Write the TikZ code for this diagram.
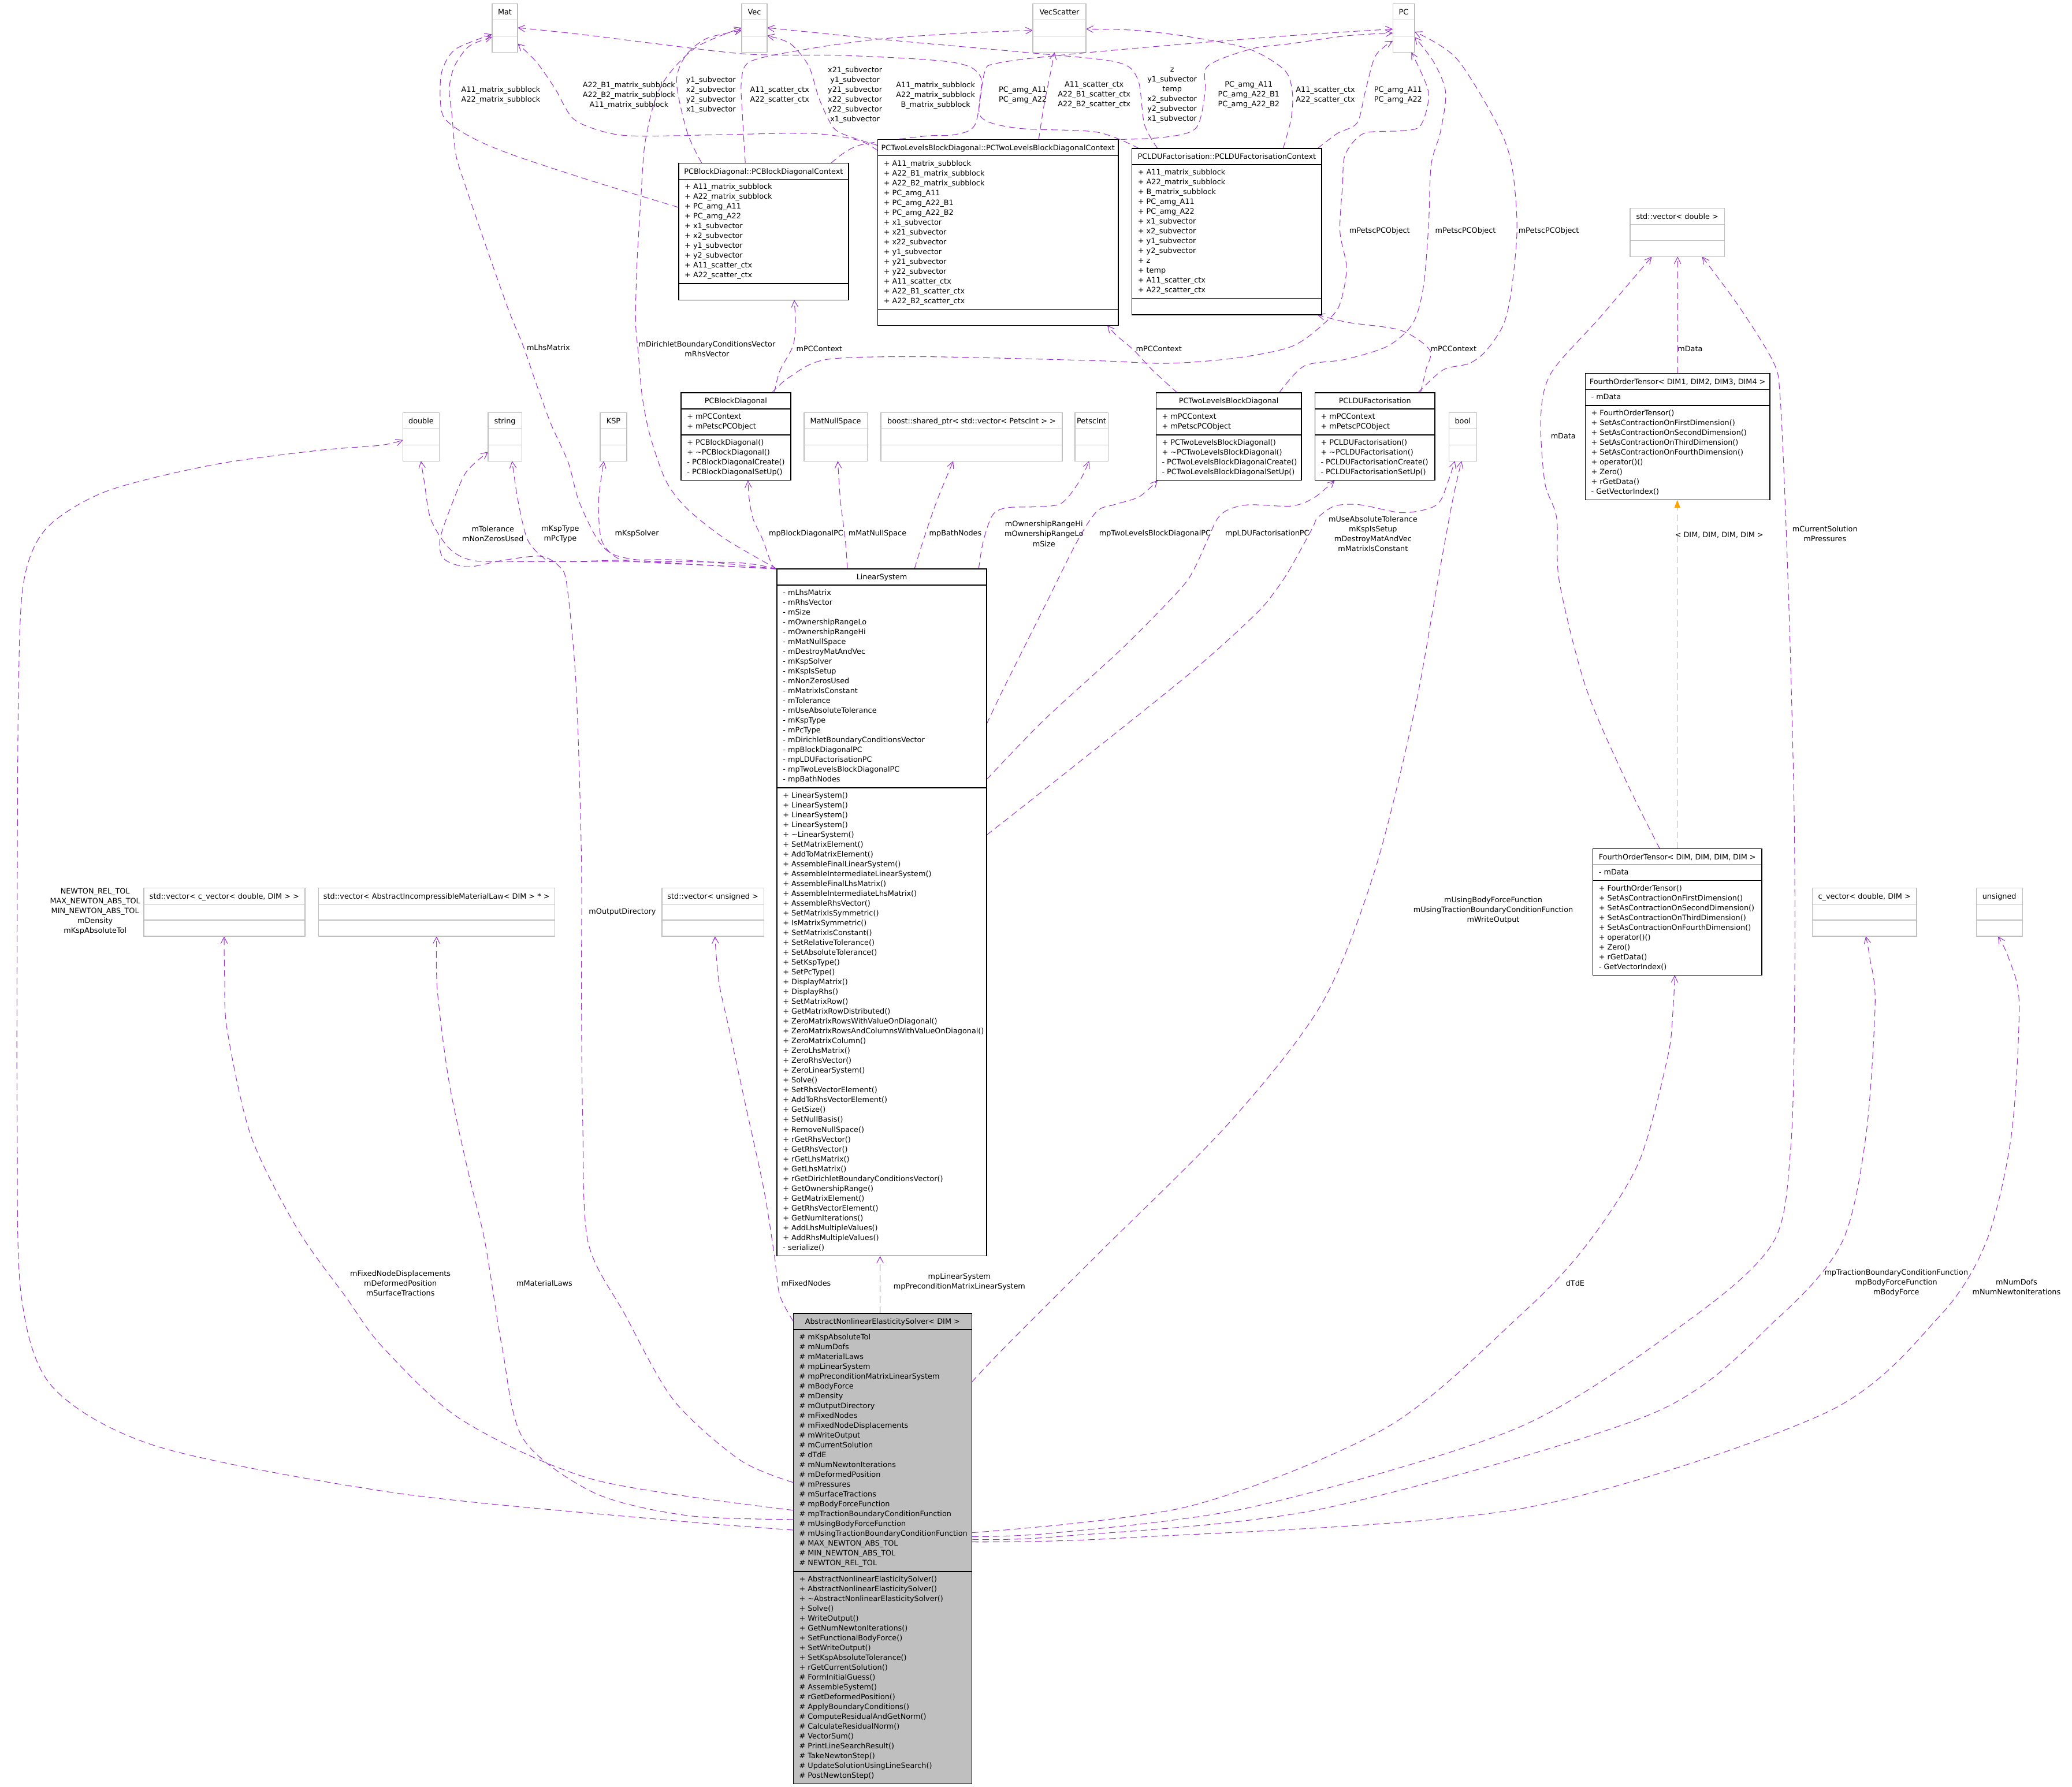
\documentclass[tikz,border=0pt]{standalone}
\usepackage{fontspec}
\newfontfamily\dxfam{DejaVu Sans}
\usetikzlibrary{arrows.meta}
\definecolor{edgepurple}{HTML}{9A32CD}
\definecolor{tmplorange}{HTML}{FFA500}
\definecolor{boxgray}{HTML}{BFBFBF}
\definecolor{anesgray}{HTML}{BFBFBF}
\pgfdeclarelayer{bg}
\pgfsetlayers{bg,main}
\newcommand\tbox[5]{%
  \node[gbox, minimum width={(#4-#2)*1pt}, minimum height=36.6pt] (#1) at (#2,#3) {};
  \draw[gsep] (#2,#3+12.2) -- (#4,#3+12.2) (#2,#3+24.4) -- (#4,#3+24.4);
  \node[ttl] (#1-t) at ({(#2+#4)/2},#3+8.2) {#5};}
\begin{document}
\catcode`\_=12
\begin{tikzpicture}[x=1pt,y=-1pt,
  every node/.style={outer sep=0pt},
  gbox/.style={draw=boxgray, fill=white, line width=0.55pt, inner sep=0pt, anchor=north west},
  cls/.style={draw=black, fill=white, line width=0.6pt, inner sep=0pt, anchor=north west},
  acls/.style={draw=black, fill=anesgray, line width=0.6pt, inner sep=0pt, anchor=north west},
  gsep/.style={draw=boxgray, line width=0.55pt},
  csep/.style={draw=black, line width=0.6pt},
  dxf/.style={font=\dxfam\fontsize{5.6}{7.44}\selectfont},
  ttl/.style={dxf, anchor=base, inner sep=0pt},
  lst/.style={dxf, anchor=north west, inner sep=0pt, align=left},
  lbl/.style={dxf, anchor=center, inner sep=0pt, align=center},
  dep/.style={draw=edgepurple, line width=0.45pt, dash pattern=on 5pt off 3pt, -{Straight Barb[length=5pt,width=5pt]}},
  tmpl/.style={draw=tmplorange, line width=0.45pt, dash pattern=on 5pt off 3pt, -{Triangle[length=6pt,width=4.5pt]}},
]
\useasboundingbox (0,0) rectangle (1568,1352.1);

% ---------- plain type boxes ----------
\tbox{Mat}{372.4}{3}{391.7}{Mat}
\tbox{Vec}{561.3}{3}{580.5}{Vec}
\tbox{VecScatter}{781.6}{3}{821.8}{VecScatter}
\tbox{PC}{1054}{3}{1070.5}{PC}
\tbox{dbl}{305}{312.3}{332.3}{double}
\tbox{str}{369.4}{312.3}{394.8}{string}
\tbox{KSP}{454.2}{312.3}{474.3}{KSP}
\tbox{MNS}{608.5}{312.3}{656.2}{MatNullSpace}
\tbox{boost}{666.6}{312.3}{803.9}{boost::shared_ptr< std::vector< PetscInt > >}
\tbox{PInt}{813.5}{312.3}{838.5}{PetscInt}
\tbox{bool}{1096.4}{312.3}{1117.4}{bool}
\tbox{vdbl}{1233.6}{157.6}{1305}{std::vector< double >}
\tbox{cvec}{1371.4}{672}{1450.4}{c_vector< double, DIM >}
\tbox{uns}{1495.5}{672}{1530.5}{unsigned}
\tbox{vcvec}{108.8}{672}{230.8}{std::vector< c_vector< double, DIM > >}
\tbox{vlaw}{241}{672}{419.7}{std::vector< AbstractIncompressibleMaterialLaw< DIM > * >}
\tbox{vuns}{501}{672}{578}{std::vector< unsigned >}

% ---------- context structs ----------
\node[cls, minimum width=128.5pt, minimum height=103.6pt] (PCBDC) at (513.6,123.4) {};
\node[ttl] (PCBDC-t) at (577.85,131.6) {PCBlockDiagonal::PCBlockDiagonalContext};
\draw[csep] (513.6,135.6) -- (642.1,135.6) (513.6,214.6) -- (642.1,214.6);
\node[lst] (PCBDC-a) at (518.1,138.0) {\strut+ A11_matrix_subblock\\+ A22_matrix_subblock\\+ PC_amg_A11\\+ PC_amg_A22\\+ x1_subvector\\+ x2_subvector\\+ y1_subvector\\+ y2_subvector\\+ A11_scatter_ctx\\+ A22_scatter_ctx};

\node[cls, minimum width=182.1pt, minimum height=140.6pt] (PCTLC) at (664.2,105.7) {};
\node[ttl] (PCTLC-t) at (755.25,113.9) {PCTwoLevelsBlockDiagonal::PCTwoLevelsBlockDiagonalContext};
\draw[csep] (664.2,117.9) -- (846.3,117.9) (664.2,234.1) -- (846.3,234.1);
\node[lst] (PCTLC-a) at (668.7,120.3) {\strut+ A11_matrix_subblock\\+ A22_B1_matrix_subblock\\+ A22_B2_matrix_subblock\\+ PC_amg_A11\\+ PC_amg_A22_B1\\+ PC_amg_A22_B2\\+ x1_subvector\\+ x21_subvector\\+ x22_subvector\\+ y1_subvector\\+ y21_subvector\\+ y22_subvector\\+ A11_scatter_ctx\\+ A22_B1_scatter_ctx\\+ A22_B2_scatter_ctx};

\node[cls, minimum width=143.6pt, minimum height=125.8pt] (PCLDUC) at (856.6,112.4) {};
\node[ttl] (PCLDUC-t) at (928.4,120.6) {PCLDUFactorisation::PCLDUFactorisationContext};
\draw[csep] (856.6,124.6) -- (1000.2,124.6) (856.6,225.9) -- (1000.2,225.9);
\node[lst] (PCLDUC-a) at (861.1,127.0) {\strut+ A11_matrix_subblock\\+ A22_matrix_subblock\\+ B_matrix_subblock\\+ PC_amg_A11\\+ PC_amg_A22\\+ x1_subvector\\+ x2_subvector\\+ y1_subvector\\+ y2_subvector\\+ z\\+ temp\\+ A11_scatter_ctx\\+ A22_scatter_ctx};

% ---------- preconditioner classes ----------
\node[cls, minimum width=83pt, minimum height=66.3pt] (PCBD) at (515.4,297.3) {};
\node[ttl] (PCBD-t) at (556.9,305.5) {PCBlockDiagonal};
\draw[csep] (515.4,309.5) -- (598.4,309.5) (515.4,329.2) -- (598.4,329.2);
\node[lst] (PCBD-a) at (519.9,311.9) {\strut+ mPCContext\\+ mPetscPCObject};
\node[lst] (PCBD-m) at (519.9,331.6) {\strut+ PCBlockDiagonal()\\+ \textasciitilde PCBlockDiagonal()\\- PCBlockDiagonalCreate()\\- PCBlockDiagonalSetUp()};

\node[cls, minimum width=110.1pt, minimum height=66.3pt] (PCTL) at (874.8,297.3) {};
\node[ttl] (PCTL-t) at (929.85,305.5) {PCTwoLevelsBlockDiagonal};
\draw[csep] (874.8,309.5) -- (984.9,309.5) (874.8,329.2) -- (984.9,329.2);
\node[lst] (PCTL-a) at (879.3,311.9) {\strut+ mPCContext\\+ mPetscPCObject};
\node[lst] (PCTL-m) at (879.3,331.6) {\strut+ PCTwoLevelsBlockDiagonal()\\+ \textasciitilde PCTwoLevelsBlockDiagonal()\\- PCTwoLevelsBlockDiagonalCreate()\\- PCTwoLevelsBlockDiagonalSetUp()};

\node[cls, minimum width=90.9pt, minimum height=66.3pt] (PCLDU) at (995,297.3) {};
\node[ttl] (PCLDU-t) at (1040.45,305.5) {PCLDUFactorisation};
\draw[csep] (995,309.5) -- (1085.9,309.5) (995,329.2) -- (1085.9,329.2);
\node[lst] (PCLDU-a) at (999.5,311.9) {\strut+ mPCContext\\+ mPetscPCObject};
\node[lst] (PCLDU-m) at (999.5,331.6) {\strut+ PCLDUFactorisation()\\+ \textasciitilde PCLDUFactorisation()\\- PCLDUFactorisationCreate()\\- PCLDUFactorisationSetUp()};

% ---------- tensors ----------
\node[cls, minimum width=139.8pt, minimum height=95.8pt] (FOT4) at (1199.6,282.6) {};
\node[ttl] (FOT4-t) at (1269.5,290.8) {FourthOrderTensor< DIM1, DIM2, DIM3, DIM4 >};
\draw[csep] (1199.6,294.8) -- (1339.4,294.8) (1199.6,306.8) -- (1339.4,306.8);
\node[lst] (FOT4-a) at (1204.1,297.2) {\strut- mData};
\node[lst] (FOT4-m) at (1204.1,309.2) {\strut+ FourthOrderTensor()\\+ SetAsContractionOnFirstDimension()\\+ SetAsContractionOnSecondDimension()\\+ SetAsContractionOnThirdDimension()\\+ SetAsContractionOnFourthDimension()\\+ operator()()\\+ Zero()\\+ rGetData()\\- GetVectorIndex()};

\node[cls, minimum width=127.8pt, minimum height=95.8pt] (FOT) at (1205.4,642.3) {};
\node[ttl] (FOT-t) at (1269.3,650.5) {FourthOrderTensor< DIM, DIM, DIM, DIM >};
\draw[csep] (1205.4,654.5) -- (1333.2,654.5) (1205.4,666.5) -- (1333.2,666.5);
\node[lst] (FOT-a) at (1209.9,656.9) {\strut- mData};
\node[lst] (FOT-m) at (1209.9,668.9) {\strut+ FourthOrderTensor()\\+ SetAsContractionOnFirstDimension()\\+ SetAsContractionOnSecondDimension()\\+ SetAsContractionOnThirdDimension()\\+ SetAsContractionOnFourthDimension()\\+ operator()()\\+ Zero()\\+ rGetData()\\- GetVectorIndex()};

% ---------- LinearSystem ----------
\node[cls, minimum width=158.6pt, minimum height=519.9pt] (LS) at (588,430.6) {};
\node[ttl] (LS-t) at (667.3,438.8) {LinearSystem};
\draw[csep] (588,442.8) -- (746.6,442.8) (588,596.2) -- (746.6,596.2);
\node[lst] (LS-a) at (592.5,445.2) {\strut- mLhsMatrix\\- mRhsVector\\- mSize\\- mOwnershipRangeLo\\- mOwnershipRangeHi\\- mMatNullSpace\\- mDestroyMatAndVec\\- mKspSolver\\- mKspIsSetup\\- mNonZerosUsed\\- mMatrixIsConstant\\- mTolerance\\- mUseAbsoluteTolerance\\- mKspType\\- mPcType\\- mDirichletBoundaryConditionsVector\\- mpBlockDiagonalPC\\- mpLDUFactorisationPC\\- mpTwoLevelsBlockDiagonalPC\\- mpBathNodes};
\node[lst] (LS-m) at (592.5,598.6) {\strut+ LinearSystem()\\+ LinearSystem()\\+ LinearSystem()\\+ LinearSystem()\\+ \textasciitilde LinearSystem()\\+ SetMatrixElement()\\+ AddToMatrixElement()\\+ AssembleFinalLinearSystem()\\+ AssembleIntermediateLinearSystem()\\+ AssembleFinalLhsMatrix()\\+ AssembleIntermediateLhsMatrix()\\+ AssembleRhsVector()\\+ SetMatrixIsSymmetric()\\+ IsMatrixSymmetric()\\+ SetMatrixIsConstant()\\+ SetRelativeTolerance()\\+ SetAbsoluteTolerance()\\+ SetKspType()\\+ SetPcType()\\+ DisplayMatrix()\\+ DisplayRhs()\\+ SetMatrixRow()\\+ GetMatrixRowDistributed()\\+ ZeroMatrixRowsWithValueOnDiagonal()\\+ ZeroMatrixRowsAndColumnsWithValueOnDiagonal()\\+ ZeroMatrixColumn()\\+ ZeroLhsMatrix()\\+ ZeroRhsVector()\\+ ZeroLinearSystem()\\+ Solve()\\+ SetRhsVectorElement()\\+ AddToRhsVectorElement()\\+ GetSize()\\+ SetNullBasis()\\+ RemoveNullSpace()\\+ rGetRhsVector()\\+ GetRhsVector()\\+ rGetLhsMatrix()\\+ GetLhsMatrix()\\+ rGetDirichletBoundaryConditionsVector()\\+ GetOwnershipRange()\\+ GetMatrixElement()\\+ GetRhsVectorElement()\\+ GetNumIterations()\\+ AddLhsMultipleValues()\\+ AddRhsMultipleValues()\\- serialize()};

% ---------- AbstractNonlinearElasticitySolver ----------
\node[acls, minimum width=135.1pt, minimum height=356.2pt] (ANES) at (600.3,994) {};
\node[ttl] (ANES-t) at (667.85,1002.2) {AbstractNonlinearElasticitySolver< DIM >};
\draw[csep] (600.3,1006.2) -- (735.4,1006.2) (600.3,1189.4) -- (735.4,1189.4);
\node[lst] (ANES-a) at (604.8,1008.6) {\strut\# mKspAbsoluteTol\\\# mNumDofs\\\# mMaterialLaws\\\# mpLinearSystem\\\# mpPreconditionMatrixLinearSystem\\\# mBodyForce\\\# mDensity\\\# mOutputDirectory\\\# mFixedNodes\\\# mFixedNodeDisplacements\\\# mWriteOutput\\\# mCurrentSolution\\\# dTdE\\\# mNumNewtonIterations\\\# mDeformedPosition\\\# mPressures\\\# mSurfaceTractions\\\# mpBodyForceFunction\\\# mpTractionBoundaryConditionFunction\\\# mUsingBodyForceFunction\\\# mUsingTractionBoundaryConditionFunction\\\# MAX_NEWTON_ABS_TOL\\\# MIN_NEWTON_ABS_TOL\\\# NEWTON_REL_TOL};
\node[lst] (ANES-m) at (604.8,1191.8) {\strut+ AbstractNonlinearElasticitySolver()\\+ AbstractNonlinearElasticitySolver()\\+ \textasciitilde AbstractNonlinearElasticitySolver()\\+ Solve()\\+ WriteOutput()\\+ GetNumNewtonIterations()\\+ SetFunctionalBodyForce()\\+ SetWriteOutput()\\+ SetKspAbsoluteTolerance()\\+ rGetCurrentSolution()\\\# FormInitialGuess()\\\# AssembleSystem()\\\# rGetDeformedPosition()\\\# ApplyBoundaryConditions()\\\# ComputeResidualAndGetNorm()\\\# CalculateResidualNorm()\\\# VectorSum()\\\# PrintLineSearchResult()\\\# TakeNewtonStep()\\\# UpdateSolutionUsingLineSearch()\\\# PostNewtonStep()};

% ---------- connectors ----------
\begin{pgfonlayer}{bg}
\fill[white] (0,0) rectangle (1568,1352.1);
% context structs -> Mat
\draw[dep] plot[smooth] coordinates {(PCBDC.west |- 0,157) (448,137) (393,119) (365,108) (345,97) (335,87) (333,69) (335,52) (345,37) (Mat.west |- 0,26)};
\draw[dep] plot[smooth] coordinates {(PCTLC.west |- 0,114) (649,106) (614,101) (543,102) (483,103) (458,100) (434,90) (420,67) (406,47) (Mat.east |- 0,33)};
\draw[dep] plot[smooth] coordinates {(PCLDUC.north -| 862,0) (830,100) (770,97) (742,88) (742,58) (720,47) (640,42) (566,41) (496,33) (448,27) (412,23) (Mat.east |- 0,21)};
% -> Vec
\draw[dep] plot[smooth] coordinates {(PCBDC.north -| 531,0) (520,100) (512,62) (519,42) (535,29) (Vec.west |- 0,23)};
\draw[dep] plot[smooth] coordinates {(PCTLC.west |- 0,110) (645,104) (631,97) (620,75) (612,50) (598,33) (Vec.east |- 0,27)};
\draw[dep] plot[smooth] coordinates {(PCLDUC.north -| 876,0) (866,94) (861,60) (845,47) (780,40) (680,31) (610,24) (Vec.east |- 0,21)};
% -> VecScatter
\draw[dep] plot[smooth] coordinates {(PCBDC.north -| 564,0) (562,90) (561,62) (567,47) (600,39) (661,30) (730,25) (VecScatter.west |- 0,23)};
\draw[dep] plot[smooth] coordinates {(PCTLC.north -| 786,0) (790,80) (795,55) (VecScatter.south -| 798,0)};
\draw[dep] plot[smooth] coordinates {(PCLDUC.north -| 971,0) (977,90) (978,70) (972,53) (945,37) (901,28) (860,23) (VecScatter.east |- 0,22)};
% -> PC
\draw[dep] plot[smooth] coordinates {(PCBDC.north -| 629,0) (650,110) (700,103) (722,102) (738,94) (745,55) (754,48) (800,42) (900,33) (990,26) (PC.west |- 0,22)};
\draw[dep] plot[smooth] coordinates {(PCTLC.north -| 840,0) (880,104) (905,97) (912,70) (914,50) (947,37) (977,33) (1020,27) (PC.west |- 0,25)};
\draw[dep] plot[smooth] coordinates {(PCLDUC.north -| 997,0) (1012,101) (1027,93) (1033,70) (1040,44) (1048,35) (PC.west |- 0,31)};
% mPetscPCObject
\draw[dep] plot[smooth] coordinates {(PCBD.north -| 584,0) (598,285) (626,272) (702,270) (830,273) (883,275) (935,271) (978,262) (1004,243) (1014,230) (1019,203) (1014,175) (1016,140) (1018,117) (1032,101) (1060,99) (1075,95) (1081,70) (PC.south -| 1068,0)};
\draw[dep] plot[smooth] coordinates {(PCTL.north -| 968,0) (987,277) (1018,272) (1050,262) (1069,245) (1077,218) (1081,172) (1083,125) (1090,100) (1094,70) (1085,47) (PC.east |- 0,28)};
\draw[dep] plot[smooth] coordinates {(PCLDU.north -| 1073,0) (1092,280) (1112,275) (1125,265) (1138,245) (1144,218) (1148,172) (1144,125) (1133,94) (1102,44) (PC.east |- 0,24)};
% mPCContext
\draw[dep] plot[smooth] coordinates {(PCBD.north -| 586,0) (590,281) (600,262) (602,245) (PCBDC.south -| 601,0)};
\draw[dep] plot[smooth] coordinates {(PCTL.north -| 891,0) (872,280) (858,265) (845,254) (PCTLC.south -| 838,0)};
\draw[dep] plot[smooth] coordinates {(PCLDU.north -| 1075,0) (1079,280) (1082,265) (1060,250) (1020,244) (PCLDUC.south -| 997,0)};
% LinearSystem ->
\draw[dep] plot[smooth] coordinates {(LS.north west) (540,428) (493,425) (465,420) (452,408) (438,379) (430,350) (417,321) (406,291) (396,262) (385,235) (368,187) (352,140) (345,117) (342,87) (340,67) (344,50) (355,35) (Mat.west |- 0,28)};
\draw[dep] plot[smooth] coordinates {(LS.north west) (549,408) (520,385) (504,364) (492,330) (486,300) (483,267) (481,243) (482,200) (485,150) (488,109) (496,75) (507,55) (528,35) (Vec.west |- 0,21)};
\draw[dep] plot[smooth] coordinates {(LS.north west) (560,426) (493,425) (389,425) (357,424) (340,415) (326,393) (321,364) (dbl.south -| 318.5,0)};
\draw[dep] plot[smooth] coordinates {(LS.north west) (520,424) (470,424) (420,425) (410,421) (399,408) (392,379) (str.south -| 387.5,0)};
\draw[dep] plot[smooth] coordinates {(LS.north west) (540,428) (480,425) (465,421) (455,408) (453,379) (KSP.south -| 457,0)};
\draw[dep] plot[smooth] coordinates {(LS.north west) (584,427) (577,408) (570,393) (567,378) (PCBD.south -| 566,0)};
\draw[dep] plot[smooth] coordinates {(LS.north -| 641.3,0) (639.6,408) (636,379) (MNS.south -| 634,0)};
\draw[dep] plot[smooth] coordinates {(LS.north -| 692,0) (699,408) (709,379) (boost.south -| 721.4,0)};
\draw[dep] plot[smooth] coordinates {(LS.north -| 740.6,0) (744,410) (751,390) (761.5,384.3) (782,383.6) (803,381) (817,364) (PInt.south -| 824.2,0)};
\draw[dep] plot[smooth] coordinates {(LS.east |- 0,548) (760,520) (790,460) (815,410) (830,387) (843,382) (862,376) (PCTL.south -| 876,0)};
\draw[dep] plot[smooth] coordinates {(LS.east |- 0,590) (790,545) (850,490) (893,446) (904,430) (914,408) (921,393) (929,386) (945,382) (977,383) (994,377) (PCLDU.south -| 1010,0)};
\draw[dep] plot[smooth] coordinates {(LS.east |- 0,632) (800,590) (900,510) (950,465) (966,446) (976.5,430) (993,400) (997,392) (1010,383) (1029,382) (1060,388) (1081,385) (1090,379) (1096,364) (bool.south -| 1101,0)};
% AbstractNonlinearElasticitySolver ->
\draw[dep] (ANES.north -| 666,0) -- (LS.south -| 666,0);
\draw[dep] plot[smooth] coordinates {(ANES.west |- 0,1158) (500,1150) (300,1130) (120,1095) (40,1050) (16,980) (13,850) (13,700) (14,520) (18,440) (35,400) (80,372) (160,352) (240,341) (288,337) (dbl.west |- 0,333)};
\draw[dep] plot[smooth] coordinates {(ANES.west |- 0,1122) (560,1105) (510,1060) (473,995) (445,940) (441,850) (440,750) (440,650) (436,520) (429,443) (423,428.5) (409,421) (381,424) (354,429) (336,423) (333,408) (343,379) (353,357) (str.west |- 0,342)};
\draw[dep] plot[smooth] coordinates {(ANES.west |- 0,1143) (450,1120) (350,1075) (290,1020) (262,982) (225,930) (190,860) (172,780) (170,740) (vcvec.south -| 169.6,0)};
\draw[dep] plot[smooth] coordinates {(ANES.west |- 0,1150) (520,1147) (450,1130) (396,1089) (380,1020) (367,940) (355,890) (340,820) (331,750) (vlaw.south -| 330.4,0)};
\draw[dep] plot[smooth] coordinates {(ANES.west |- 0,1000) (590,980) (586,950) (578,900) (565,840) (552,780) (544,743) (vuns.south -| 541,0)};
\draw[dep] plot[smooth] coordinates {(ANES.east |- 0,1163) (800,1160) (950,1140) (1150,1080) (1281,997) (1342,940) (1355,870) (1358,765) (1358,634) (1355,500) (1351,383) (1347,299) (1342,274) (1316,232) (vdbl.south -| 1288,0)};
\draw[dep] plot[smooth] coordinates {(ANES.east |- 0,1160) (900,1140) (1050,1080) (1152,994) (1200,943) (1240,880) (1262,800) (1266,765) (FOT.south -| 1267.4,0)};
\draw[dep] plot[smooth] coordinates {(ANES.east |- 0,1165) (800,1163) (1000,1142) (1250,1070) (1346,997) (1394,940) (1412,860) (1419,760) (1415,725) (cvec.south -| 1412,0)};
\draw[dep] plot[smooth] coordinates {(ANES.east |- 0,1167) (850,1164) (1150,1142) (1380,1070) (1467,997) (1503,940) (1522,860) (1528,760) (1520,725) (uns.south -| 1512,0)};
\draw[dep] plot[smooth] coordinates {(ANES.east |- 0,1046) (760,1020) (830,950) (930,850) (1000,760) (1040,660) (1070,540) (1088,440) (1099,380) (bool.south -| 1106,0)};
% tensors
\draw[dep] plot[smooth] coordinates {(FOT.north -| 1256,0) (1230,590) (1200,520) (1180,440) (1178,392) (1169,365) (1166,315) (1174,282) (1211,240) (vdbl.south -| 1250,0)};
\draw[dep] (FOT4.north -| 1269.5,0) -- (vdbl.south -| 1269.5,0);
\draw[tmpl] (FOT.north -| 1269.3,0) -- (FOT4.south -| 1269.3,0);
\end{pgfonlayer}

% ---------- connector labels ----------
\node[lbl] (l1) at (379,72) {A11_matrix_subblock\\A22_matrix_subblock};
\node[lbl] (l2) at (476,72) {A22_B1_matrix_subblock\\A22_B2_matrix_subblock\\A11_matrix_subblock};
\node[lbl] (l3) at (538,72) {y1_subvector\\x2_subvector\\y2_subvector\\x1_subvector};
\node[lbl] (l4) at (590,72) {A11_scatter_ctx\\A22_scatter_ctx};
\node[lbl] (l5) at (647,72) {x21_subvector\\y1_subvector\\y21_subvector\\x22_subvector\\y22_subvector\\x1_subvector};
\node[lbl] (l6) at (708,72) {A11_matrix_subblock\\A22_matrix_subblock\\B_matrix_subblock};
\node[lbl] (l7) at (774,72) {PC_amg_A11\\PC_amg_A22};
\node[lbl] (l8) at (828,72) {A11_scatter_ctx\\A22_B1_scatter_ctx\\A22_B2_scatter_ctx};
\node[lbl] (l9) at (887,72) {z\\y1_subvector\\temp\\x2_subvector\\y2_subvector\\x1_subvector};
\node[lbl] (l10) at (945,72) {PC_amg_A11\\PC_amg_A22_B1\\PC_amg_A22_B2};
\node[lbl] (l11) at (1003,72) {A11_scatter_ctx\\A22_scatter_ctx};
\node[lbl] (l12) at (1058,72) {PC_amg_A11\\PC_amg_A22};
\node[lbl] (l13) at (415,263) {mLhsMatrix};
\node[lbl] (l14) at (535,264) {mDirichletBoundaryConditionsVector\\mRhsVector};
\node[lbl] (l15) at (620,264) {mPCContext};
\node[lbl] (l16) at (877,264) {mPCContext};
\node[lbl] (l17) at (1100,264) {mPCContext};
\node[lbl] (l18) at (1044,175) {mPetscPCObject};
\node[lbl] (l19) at (1109,175) {mPetscPCObject};
\node[lbl] (l20) at (1172,175) {mPetscPCObject};
\node[lbl] (l21) at (373,404) {mTolerance\\mNonZerosUsed};
\node[lbl] (l22) at (424,404) {mKspType\\mPcType};
\node[lbl] (l23) at (482,404) {mKspSolver};
\node[lbl] (l24) at (610,404) {mpBlockDiagonalPC};
\node[lbl] (l25) at (664,404) {mMatNullSpace};
\node[lbl] (l26) at (723,404) {mpBathNodes};
\node[lbl] (l27) at (790,404) {mOwnershipRangeHi\\mOwnershipRangeLo\\mSize};
\node[lbl] (l28) at (874,404) {mpTwoLevelsBlockDiagonalPC};
\node[lbl] (l29) at (959,404) {mpLDUFactorisationPC};
\node[lbl] (l30) at (1039,404) {mUseAbsoluteTolerance\\mKspIsSetup\\mDestroyMatAndVec\\mMatrixIsConstant};
\node[lbl] (l31) at (1301,405) {< DIM, DIM, DIM, DIM >};
\node[lbl] (l32) at (1381,404) {mCurrentSolution\\mPressures};
\node[lbl] (l33) at (1279,264) {mData};
\node[lbl] (l34) at (1183,330) {mData};
\node[lbl] (l35) at (72,690) {NEWTON_REL_TOL\\MAX_NEWTON_ABS_TOL\\MIN_NEWTON_ABS_TOL\\mDensity\\mKspAbsoluteTol};
\node[lbl] (l36) at (471,690) {mOutputDirectory};
\node[lbl] (l37) at (1130,689) {mUsingBodyForceFunction\\mUsingTractionBoundaryConditionFunction\\mWriteOutput};
\node[lbl] (l38) at (303,971) {mFixedNodeDisplacements\\mDeformedPosition\\mSurfaceTractions};
\node[lbl] (l39) at (412,971) {mMaterialLaws};
\node[lbl] (l40) at (610,971) {mFixedNodes};
\node[lbl] (l41) at (726,970) {mpLinearSystem\\mpPreconditionMatrixLinearSystem};
\node[lbl] (l42) at (1192,971) {dTdE};
\node[lbl] (l43) at (1435,971) {mpTractionBoundaryConditionFunction\\mpBodyForceFunction\\mBodyForce};
\node[lbl] (l44) at (1526,974) {mNumDofs\\mNumNewtonIterations};
\end{tikzpicture}
\end{document}
